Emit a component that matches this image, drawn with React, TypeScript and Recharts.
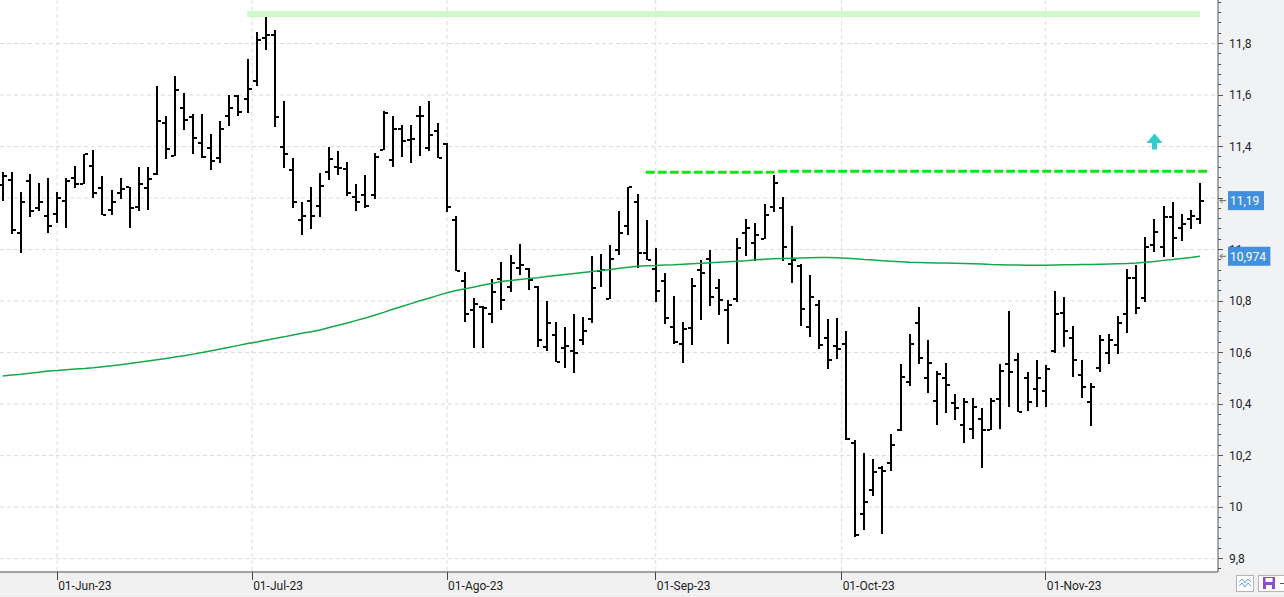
import React from "react";
import {
  ComposedChart,
  Bar,
  Line,
  XAxis,
  YAxis,
  CartesianGrid,
  ReferenceLine,
  ReferenceDot,
} from "recharts";

// daily bars, 24-May-23 .. 24-Nov-23 (index = trading day)
const opens = [
  11.252, 11.271, 11.065, 11.267, 11.16, 11.131, 11.139, 11.189, 11.278, 11.255,
  11.326, 11.239, 11.154, 11.22, 11.241, 11.166, 11.239, 11.295, 11.492, 11.364,
  11.55, 11.514, 11.414, 11.395, 11.356, 11.517, 11.597, 11.583, 11.656, 11.823,
  11.835, 11.4, 11.309, 11.113, 11.19, 11.171, 11.303, 11.321, 11.312, 11.206,
  11.21, 11.21, 11.388, 11.347, 11.467, 11.427, 11.517, 11.394, 11.461, 11.409,
  11.113, 10.876, 10.764, 10.777, 10.751, 10.887, 10.856, 10.928, 10.925, 10.856,
  10.623, 10.67, 10.617, 10.606, 10.647, 10.729, 10.918, 10.808, 11.0, 11.092,
  11.183, 10.986, 10.926, 10.878, 10.7, 10.635, 10.696, 10.922, 10.962, 10.852,
  10.766, 10.808, 11.065, 11.027, 11.041, 11.164, 11.162, 10.942, 10.938, 10.7,
  10.786, 10.656, 10.626, 10.635, 10.247, 9.973, 10.067, 10.152, 10.172, 10.298,
  10.487, 10.713, 10.503, 10.411, 10.503, 10.406, 10.317, 10.302, 10.341, 10.301,
  10.421, 10.555, 10.573, 10.503, 10.46, 10.452, 10.606, 10.755, 10.658, 10.511,
  10.407, 10.542, 10.6, 10.628, 10.751, 10.891, 10.811, 11.017, 11.009, 11.128,
  11.082, 11.12, 11.12,
];
const highs = [
  11.302, 11.302, 11.224, 11.295, 11.26, 11.276, 11.224, 11.276, 11.326, 11.372,
  11.388, 11.287, 11.233, 11.278, 11.243, 11.322, 11.322, 11.637, 11.52, 11.672,
  11.606, 11.528, 11.528, 11.45, 11.501, 11.602, 11.602, 11.741, 11.843, 11.917,
  11.851, 11.575, 11.356, 11.184, 11.242, 11.296, 11.397, 11.382, 11.339, 11.254,
  11.289, 11.374, 11.537, 11.518, 11.483, 11.483, 11.557, 11.575, 11.493, 11.412,
  11.129, 10.911, 10.81, 10.781, 10.887, 10.953, 10.978, 11.023, 10.929, 10.859,
  10.799, 10.717, 10.701, 10.748, 10.74, 10.974, 10.982, 11.016, 11.151, 11.243,
  11.217, 11.113, 11.005, 10.909, 10.821, 10.717, 10.891, 10.961, 11.0, 10.887,
  10.805, 11.043, 11.12, 11.102, 11.175, 11.291, 11.205, 11.092, 10.944, 10.902,
  10.803, 10.731, 10.735, 10.684, 10.26, 10.21, 10.187, 10.161, 10.285, 10.557,
  10.671, 10.776, 10.65, 10.527, 10.559, 10.441, 10.425, 10.425, 10.386, 10.425,
  10.557, 10.763, 10.6, 10.526, 10.573, 10.553, 10.841, 10.817, 10.702, 10.573,
  10.48, 10.667, 10.671, 10.741, 10.924, 10.939, 11.047, 11.118, 11.168, 11.184,
  11.139, 11.153, 11.258,
];
const lows = [
  11.188, 11.06, 10.986, 11.128, 11.148, 11.063, 11.102, 11.083, 11.238, 11.255,
  11.199, 11.133, 11.133, 11.195, 11.083, 11.149, 11.153, 11.289, 11.351, 11.364,
  11.463, 11.37, 11.356, 11.308, 11.335, 11.479, 11.517, 11.529, 11.634, 11.775,
  11.475, 11.316, 11.161, 11.056, 11.08, 11.127, 11.271, 11.29, 11.208, 11.15,
  11.162, 11.197, 11.388, 11.321, 11.36, 11.337, 11.364, 11.381, 11.357, 11.146,
  10.918, 10.717, 10.616, 10.616, 10.713, 10.766, 10.836, 10.902, 10.843, 10.623,
  10.608, 10.562, 10.54, 10.521, 10.631, 10.713, 10.856, 10.807, 10.978, 11.058,
  10.928, 10.959, 10.797, 10.71, 10.634, 10.56, 10.628, 10.726, 10.78, 10.745,
  10.634, 10.797, 10.974, 10.956, 11.041, 11.146, 10.957, 10.869, 10.702, 10.661,
  10.614, 10.535, 10.575, 10.261, 9.882, 9.911, 10.042, 9.896, 10.139, 10.294,
  10.471, 10.556, 10.443, 10.319, 10.366, 10.339, 10.25, 10.266, 10.152, 10.3,
  10.305, 10.389, 10.371, 10.375, 10.389, 10.389, 10.6, 10.622, 10.506, 10.424,
  10.315, 10.525, 10.556, 10.596, 10.676, 10.75, 10.797, 10.991, 10.97, 10.973,
  11.032, 11.079, 11.1,
];
const closes = [
  11.287, 11.076, 11.183, 11.15, 11.185, 11.092, 11.201, 11.268, 11.255, 11.372,
  11.22, 11.133, 11.185, 11.236, 11.162, 11.255, 11.274, 11.5, 11.391, 11.621,
  11.504, 11.435, 11.36, 11.344, 11.469, 11.55, 11.535, 11.624, 11.814, 11.835,
  11.513, 11.372, 11.185, 11.132, 11.132, 11.245, 11.353, 11.318, 11.22, 11.183,
  11.17, 11.361, 11.531, 11.47, 11.423, 11.43, 11.517, 11.443, 11.357, 11.167,
  10.918, 10.751, 10.79, 10.772, 10.837, 10.803, 10.946, 10.939, 10.881, 10.647,
  10.713, 10.565, 10.627, 10.6, 10.683, 10.852, 10.922, 10.965, 11.065, 11.243,
  10.986, 10.959, 10.839, 10.733, 10.64, 10.692, 10.859, 10.908, 10.816, 10.805,
  10.785, 11.006, 11.083, 11.057, 11.135, 11.258, 11.01, 10.961, 10.77, 10.817,
  10.631, 10.573, 10.613, 10.265, 9.893, 10.019, 10.137, 10.142, 10.243, 10.507,
  10.635, 10.579, 10.561, 10.518, 10.476, 10.383, 10.41, 10.39, 10.298, 10.411,
  10.53, 10.526, 10.371, 10.407, 10.503, 10.538, 10.751, 10.682, 10.573, 10.468,
  10.468, 10.65, 10.65, 10.713, 10.889, 10.775, 11.008, 11.07, 11.128, 11.044,
  11.1, 11.131, 11.19,
];
// long moving average (green)
const movingAvg = [
  10.509, 10.513, 10.516, 10.52, 10.524, 10.528, 10.53, 10.533, 10.536, 10.538,
  10.541, 10.545, 10.549, 10.553, 10.558, 10.562, 10.567, 10.572, 10.577, 10.583,
  10.588, 10.594, 10.6, 10.607, 10.614, 10.621, 10.628, 10.635, 10.641, 10.648,
  10.655, 10.661, 10.668, 10.675, 10.681, 10.688, 10.697, 10.706, 10.715, 10.725,
  10.734, 10.745, 10.756, 10.768, 10.779, 10.79, 10.801, 10.811, 10.822, 10.832,
  10.841, 10.848, 10.855, 10.862, 10.869, 10.876, 10.88, 10.884, 10.888, 10.891,
  10.895, 10.899, 10.903, 10.907, 10.911, 10.915, 10.919, 10.923, 10.927, 10.931,
  10.935, 10.937, 10.938, 10.94, 10.941, 10.943, 10.945, 10.947, 10.949, 10.951,
  10.953, 10.955, 10.957, 10.96, 10.962, 10.964, 10.965, 10.966, 10.967, 10.968,
  10.969, 10.969, 10.968, 10.966, 10.964, 10.961, 10.959, 10.957, 10.955, 10.953,
  10.951, 10.95, 10.949, 10.948, 10.948, 10.947, 10.946, 10.945, 10.944, 10.942,
  10.941, 10.94, 10.94, 10.939, 10.939, 10.939, 10.94, 10.941, 10.941, 10.942,
  10.942, 10.943, 10.944, 10.945, 10.946, 10.948, 10.951, 10.954, 10.958, 10.961,
  10.965, 10.969, 10.974,
];

// month starts (Jul 1 and Oct 1 fall on a weekend)
const monthTicks = [6, 27.5, 49, 72, 92.5, 115];
const monthLabels = ["01-Jun-23", "01-Jul-23", "01-Ago-23", "01-Sep-23", "01-Oct-23", "01-Nov-23"];
const priceTicks = [9.8, 10, 10.2, 10.4, 10.6, 10.8, 11, 11.2, 11.4, 11.6, 11.8];

// annotations
const topBand = { from: 26.95, to: 132, level: 11.915 };
const breakFrom = [70.9, 85.5];
const breakTo = [85.2, 132.8];
const breakLevel = [11.3, 11.304];
const arrowAt = { x: 127, y: 11.42 };
const tagValues = [11.19, 10.974];
const tagTexts = ["11,19", "10,974"];

const X_DOMAIN = [-0.3, 134];
const Y_DOMAIN = [9.748, 11.969];

const minorTicks: number[] = [];
for (let k = 0; k <= 55; k++) minorTicks.push(Math.round((9.76 + k * 0.04) * 100) / 100);

const data = closes.map((c, i) => ({
  i,
  o: opens[i],
  c,
  range: [lows[i], highs[i]],
  ma: movingAvg[i],
}));

const FONT = "Roboto, 'Liberation Sans', Arial, sans-serif";
const fmt = (v: number) => String(Math.round(v * 10) / 10).replace(".", ",");

function OhlcBar(props: any) {
  const { x, y, width, height, payload } = props;
  if (!payload) return null;
  const [lo, hi] = payload.range;
  const top = Math.min(y, y + height);
  const h = Math.abs(height);
  const cx = Math.round(x + width / 2);
  const py = (v: number) => Math.round(top + ((hi - v) / (hi - lo)) * h);
  return (
    <g shapeRendering="crispEdges" fill="#000">
      <rect x={cx - 1} y={top} width={2} height={Math.max(h, 1)} />
      <rect x={cx - 4} y={py(payload.o) - 1} width={3} height={2} />
      <rect x={cx + 1} y={py(payload.c) - 1} width={3} height={2} />
    </g>
  );
}

function PriceTick(props: any) {
  const { x, y, payload } = props;
  const v = payload.value;
  const major = Math.abs(v * 5 - Math.round(v * 5)) < 1e-6;
  return (
    <g>
      <line x1={x} x2={x + (major ? 5 : 3)} y1={y} y2={y} stroke="#555" shapeRendering="crispEdges" />
      {major && (
        <text x={x + 11} y={y + 4} fontSize={12} fill="#1e1e1e" fontFamily={FONT}>
          {fmt(v)}
        </text>
      )}
    </g>
  );
}

function DateTick(props: any) {
  const { x, y, payload } = props;
  const label = monthLabels[monthTicks.indexOf(payload.value)];
  return (
    <g>
      <line x1={x} x2={x} y1={y} y2={y + 8} stroke="#444" shapeRendering="crispEdges" />
      <text x={x + 1} y={y + 18} fontSize={12} fill="#1e1e1e" fontFamily={FONT}>
        {label}
      </text>
    </g>
  );
}

function ValueTag(props: any) {
  const { viewBox, text } = props;
  if (!viewBox) return null;
  const x0 = viewBox.x + viewBox.width;
  const y = viewBox.y;
  const boxW = text.length * 6.4 + 4;
  return (
    <g>
      <path
        d={`M${x0 + 8},${y} L${x0 + 2},${y} M${x0 + 4.5},${y - 2.5} L${x0 + 2},${y} L${x0 + 4.5},${y + 2.5}`}
        stroke="#666"
        fill="none"
      />
      <rect x={x0 + 10} y={y - 9.5} width={boxW} height={19} fill="#4190e0" />
      <text x={x0 + 12} y={y + 4.5} fontSize={12} fill="#fff" fontFamily={FONT}>
        {text}
      </text>
    </g>
  );
}

function UpArrow(props: any) {
  const { cx, cy } = props;
  return (
    <path
      d={`M${cx},${cy - 8} L${cx + 8},${cy + 1.5} L${cx + 2.5},${cy + 1.5} L${cx + 2.5},${cy + 8} L${cx - 2.5},${cy + 8} L${cx - 2.5},${cy + 1.5} L${cx - 8},${cy + 1.5} Z`}
      fill="#36caca"
    />
  );
}

export default function App() {
  return (
    <div
      style={{
        position: "absolute",
        left: 0,
        top: 0,
        width: 1284,
        height: 597,
        background: "#fff",
        overflow: "hidden",
        fontFamily: FONT,
      }}
    >
      <div style={{ position: "absolute", left: 1218, top: 0, width: 66, height: 573, background: "#f1f2f4" }} />
      <div style={{ position: "absolute", left: 0, top: 573, width: 1284, height: 24, background: "#f0f0f0" }} />
      <div style={{ position: "absolute", left: 0, top: 593, width: 1284, height: 1, background: "#fafafa" }} />
      <div style={{ position: "absolute", left: 0, top: 0 }}>
        <ComposedChart width={1284} height={597} data={data} margin={{ top: 0, right: 0, bottom: 0, left: 0 }}>
          <CartesianGrid
            horizontalValues={priceTicks}
            verticalValues={monthTicks}
            stroke="#dcdcdc"
            strokeDasharray="4 3"
          />
          <XAxis
            dataKey="i"
            type="number"
            domain={X_DOMAIN}
            allowDataOverflow
            ticks={monthTicks}
            interval={0}
            height={25}
            tickSize={0}
            tickMargin={0}
            tickLine={false}
            axisLine={{ stroke: "#444" }}
            tick={<DateTick />}
          />
          <YAxis
            orientation="right"
            type="number"
            domain={Y_DOMAIN}
            allowDataOverflow
            ticks={minorTicks}
            interval={0}
            width={66}
            tickSize={0}
            tickMargin={0}
            tickLine={false}
            axisLine={{ stroke: "#555" }}
            tick={<PriceTick />}
          />
          <ReferenceLine
            segment={[
              { x: topBand.from, y: topBand.level },
              { x: topBand.to, y: topBand.level },
            ]}
            stroke="#cdf9cb"
            strokeWidth={6}
          />
          <Bar dataKey="range" barSize={7} shape={<OhlcBar />} isAnimationActive={false} />
          <Line
            dataKey="ma"
            type="linear"
            stroke="#14a84b"
            strokeWidth={1.5}
            dot={false}
            activeDot={false}
            isAnimationActive={false}
          />
          {breakLevel.map((lv, k) => (
            <ReferenceLine
              key={k}
              segment={[
                { x: breakFrom[k], y: lv },
                { x: breakTo[k], y: lv },
              ]}
              stroke="#12e612"
              strokeWidth={3}
              strokeDasharray="9 3"
            />
          ))}
          <ReferenceDot
            x={arrowAt.x}
            y={arrowAt.y}
            r={0}
            ifOverflow="visible"
            shape={(p: any) => <UpArrow cx={p.cx} cy={p.cy} />}
          />
        </ComposedChart>
      </div>
      {/* overlay with the last-value tags, drawn above the axis labels */}
      <div style={{ position: "absolute", left: 0, top: 0 }}>
        <ComposedChart width={1284} height={597} data={data} margin={{ top: 0, right: 66, bottom: 25, left: 0 }}>
          <XAxis dataKey="i" type="number" domain={X_DOMAIN} allowDataOverflow hide />
          <YAxis type="number" domain={Y_DOMAIN} allowDataOverflow hide />
          {tagValues.map((v, k) => (
            <ReferenceLine
              key={k}
              y={v}
              stroke="none"
              ifOverflow="visible"
              label={<ValueTag text={tagTexts[k]} />}
            />
          ))}
        </ComposedChart>
      </div>
      <div
        style={{
          position: "absolute",
          left: 1236,
          top: 575,
          width: 16,
          height: 15,
          border: "1px solid #b4b4b4",
          background: "#fff",
        }}
      >
        <svg width={16} height={15}>
          <path d="M2,6 L5,3 L8,7 L11,3 L14,6 M2,10 L5,7 L8,11 L11,7 L14,10" stroke="#5aa0dc" fill="none" />
        </svg>
      </div>
      <div
        style={{
          position: "absolute",
          left: 1258,
          top: 575,
          width: 30,
          height: 15,
          border: "1px solid #b4b4b4",
          background: "#fff",
        }}
      >
        <svg width={30} height={15}>
          <rect x={4} y={1} width={12} height={12} fill="#8a4fc8" />
          <rect x={6.5} y={2} width={7} height={4} fill="#fff" />
          <rect x={7} y={9} width={6} height={4} fill="#fff" />
          <line x1={21} x2={25} y1={7.5} y2={7.5} stroke="#555" />
        </svg>
      </div>
    </div>
  );
}
